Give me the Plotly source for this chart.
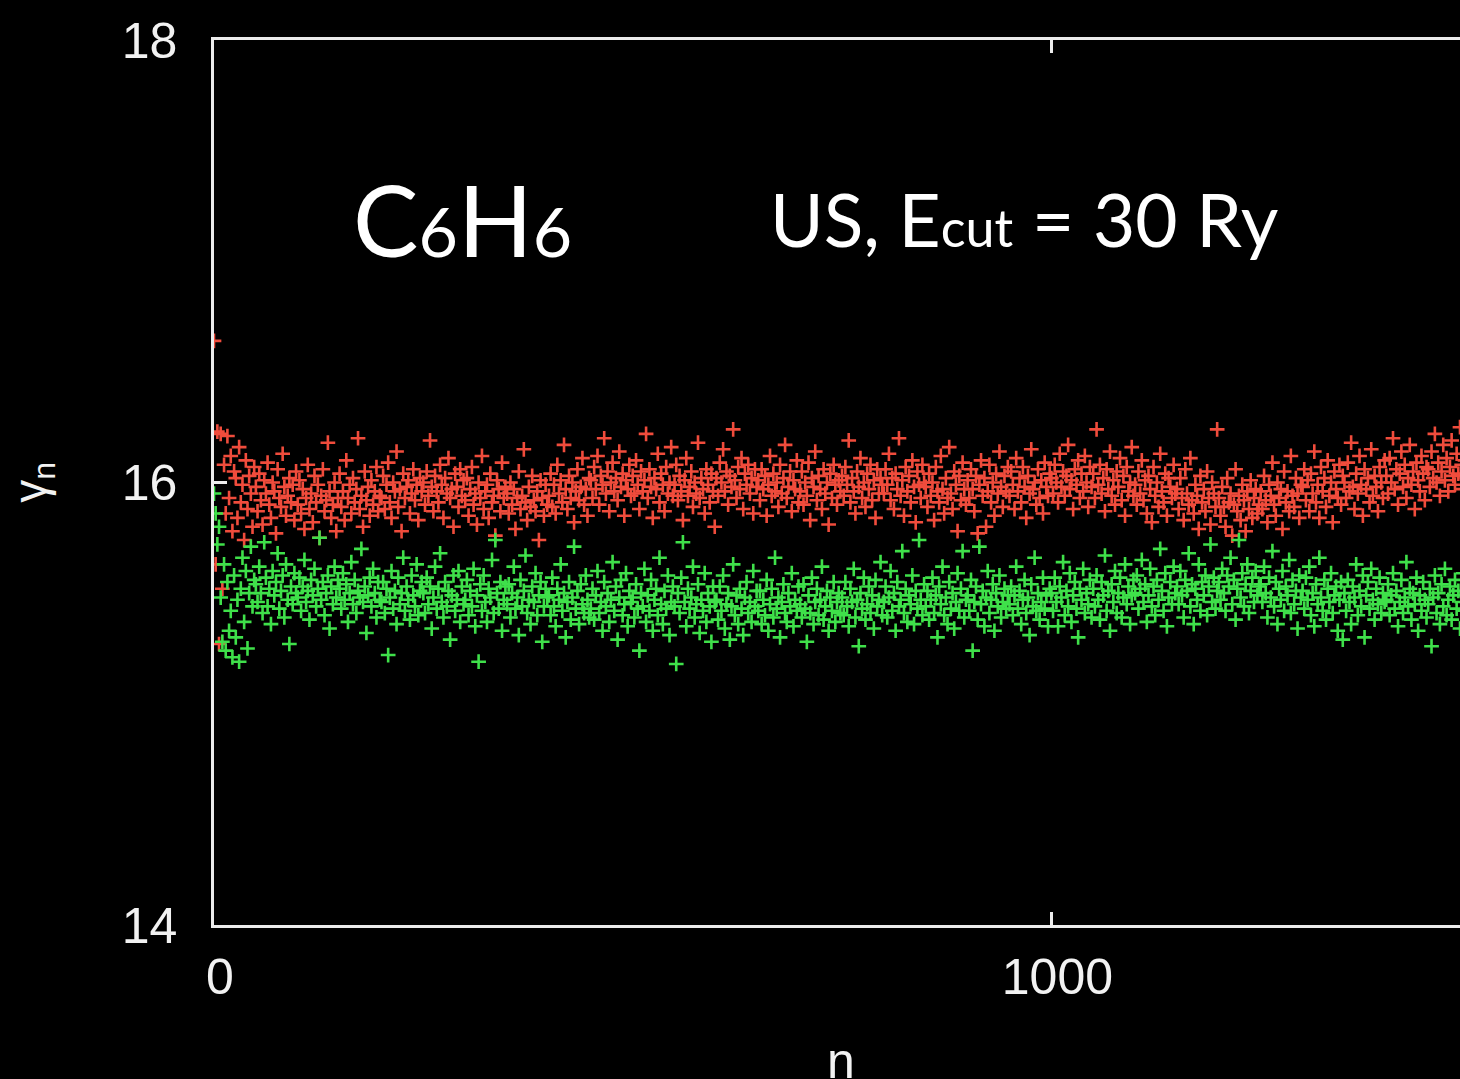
import plotly.graph_objects as go

# gamma_n values, one every 2 steps of n (n = 0, 2, 4, ...)
red_y = [
    16.64, 15.63, 16.23, 15.27, 16.22, 15.52, 16.08, 15.86, 16.21, 15.93, 16.12, 15.78, 16.05, 16.02, 15.84, 16.16, 15.91, 15.99, 15.74, 16.10, 15.88, 16.03, 15.95, 15.80, 16.07,
    15.98, 15.87, 16.04, 15.92, 15.81, 16.01, 15.95, 16.09, 15.90, 15.84, 16.00, 15.96, 15.77, 16.06, 15.93, 15.89, 16.13, 15.98, 15.85, 15.94, 16.02, 15.91, 15.99, 15.83, 16.05,
    15.90, 16.01, 15.86, 15.97, 15.79, 15.93, 16.08, 15.88, 15.95, 15.82, 16.03, 15.91, 15.99, 15.75, 15.94, 16.06, 15.87, 15.92, 16.18, 15.96, 15.84, 15.90, 16.00, 15.78, 15.93,
    16.04, 15.89, 15.96, 15.83, 16.10, 15.93, 15.99, 15.86, 16.02, 15.91, 15.97, 16.20, 15.88, 15.94, 15.80, 16.05, 15.92, 15.98, 15.85, 16.01, 15.90, 15.96, 16.07, 15.87, 15.94,
    15.93, 16.03, 15.88, 15.99, 16.09, 15.91, 15.84, 16.00, 15.96, 16.14, 15.89, 15.97, 15.78, 16.04, 15.93, 15.98, 16.01, 15.86, 15.95, 16.06, 15.92, 15.99, 15.83, 16.02, 15.96,
    16.00, 15.90, 16.05, 15.94, 16.19, 15.98, 15.87, 16.03, 15.96, 15.91, 16.08, 15.99, 15.84, 16.02, 15.95, 16.11, 15.93, 15.97, 15.80, 16.04, 15.98, 15.89, 16.06, 15.94, 16.01,
    15.92, 16.02, 15.85, 15.97, 16.07, 15.90, 15.95, 15.81, 16.00, 15.93, 16.12, 15.88, 15.96, 15.99, 15.84, 16.04, 15.91, 15.94, 15.76, 16.01, 15.97, 15.87, 16.09, 15.93, 15.98,
    15.95, 15.86, 16.00, 15.90, 15.97, 15.79, 15.93, 16.05, 15.88, 15.94, 16.15, 15.91, 15.83, 15.98, 15.89, 16.03, 15.92, 15.87, 15.96, 15.74, 16.01, 15.93, 15.85, 15.99, 15.90,
    15.94, 16.04, 15.89, 15.99, 15.86, 16.08, 15.95, 16.01, 15.91, 16.17, 15.97, 15.88, 16.03, 15.93, 16.00, 15.82, 15.96, 16.06, 15.92, 15.98, 16.11, 15.90, 15.97, 15.85, 16.02,
    16.01, 15.93, 16.07, 15.97, 16.12, 15.90, 16.03, 15.99, 16.20, 15.95, 16.05, 15.87, 16.00, 16.09, 15.96, 16.02, 15.92, 16.14, 15.98, 16.04, 15.85, 16.01, 15.97, 16.08, 15.94,
    16.03, 15.95, 16.10, 15.99, 15.88, 16.05, 15.96, 16.01, 16.22, 15.93, 16.06, 15.98, 15.84, 16.02, 15.97, 16.13, 15.91, 16.04, 15.99, 15.87, 16.07, 15.95, 16.00, 16.16, 15.94,
    15.99, 16.08, 15.92, 16.03, 15.96, 15.83, 16.01, 16.11, 15.94, 15.98, 16.05, 15.89, 16.00, 15.95, 16.18, 15.93, 16.02, 15.97, 15.86, 16.06, 15.99, 15.91, 16.04, 15.96, 15.80,
    16.02, 15.94, 16.09, 16.00, 16.15, 15.96, 16.05, 15.90, 16.03, 15.98, 16.24, 16.01, 15.93, 16.07, 15.97, 16.11, 15.88, 16.04, 15.99, 16.08, 15.95, 16.02, 15.86, 16.06, 15.98,
    16.01, 15.92, 16.06, 15.97, 16.03, 15.85, 15.99, 16.12, 15.94, 16.04, 15.96, 16.00, 15.89, 16.08, 15.95, 16.02, 16.17, 15.93, 15.98, 16.05, 15.87, 16.01, 15.97, 16.10, 15.91,
    15.96, 16.05, 15.90, 16.00, 15.94, 16.09, 15.83, 16.02, 15.98, 16.14, 15.92, 16.03, 15.97, 15.88, 16.06, 15.95, 16.00, 15.81, 16.04, 15.93, 16.08, 15.99, 15.90, 16.01, 15.96,
    16.03, 15.94, 16.07, 15.99, 16.19, 15.91, 16.02, 15.96, 15.86, 16.05, 15.98, 16.11, 15.93, 16.00, 15.89, 16.04, 15.97, 16.08, 15.92, 16.01, 15.84, 16.06, 15.95, 16.02, 15.99,
    15.95, 16.06, 15.99, 16.13, 15.92, 16.02, 15.88, 16.04, 15.97, 16.20, 15.94, 16.01, 15.85, 16.07, 15.96, 16.03, 15.91, 16.10, 15.98, 15.82, 16.05, 15.99, 15.93, 16.08, 16.00,
    15.98, 15.89, 16.04, 15.94, 16.00, 15.83, 16.07, 15.96, 15.91, 16.12, 15.97, 15.86, 16.02, 15.93, 16.16, 15.95, 15.88, 16.05, 15.99, 15.78, 16.03, 15.92, 16.09, 15.97, 15.90,
    16.01, 15.93, 16.06, 15.97, 15.87, 16.03, 15.77, 15.99, 16.10, 15.94, 16.02, 15.80, 15.96, 16.08, 15.91, 16.00, 15.85, 16.04, 15.95, 16.14, 15.98, 15.89, 16.03, 15.96, 16.07,
    15.94, 16.05, 15.99, 15.88, 16.11, 15.96, 16.02, 15.91, 16.07, 15.98, 15.84, 16.03, 15.95, 16.15, 15.97, 16.00, 15.90, 16.06, 15.93, 16.01, 15.86, 16.09, 15.98, 15.94, 16.04,
    16.02, 15.95, 16.08, 16.00, 15.91, 16.13, 15.98, 16.05, 15.94, 16.03, 16.17, 15.97, 16.01, 15.88, 16.06, 15.99, 16.10, 15.93, 16.04, 15.96, 16.12, 16.00, 15.89, 16.07, 15.98,
    16.04, 15.93, 16.24, 15.99, 16.08, 15.95, 16.02, 15.87, 16.06, 15.97, 16.14, 15.94, 16.01, 15.90, 16.05, 15.98, 16.11, 15.92, 16.03, 15.85, 16.07, 15.96, 16.00, 16.16, 15.94,
    15.99, 15.90, 16.05, 15.95, 16.10, 15.92, 16.01, 15.86, 16.03, 15.97, 15.82, 16.07, 15.94, 16.00, 15.89, 16.13, 15.96, 15.91, 16.04, 15.85, 16.02, 15.98, 15.93, 16.08, 15.95,
    15.97, 15.88, 16.02, 15.93, 15.83, 16.06, 15.95, 15.90, 16.11, 15.92, 15.86, 15.99, 15.94, 15.79, 16.03, 15.91, 15.97, 15.87, 16.05, 15.93, 15.81, 16.00, 15.95, 15.89, 16.24,
    15.93, 15.85, 15.98, 15.89, 15.80, 16.02, 15.91, 15.95, 15.76, 15.90, 16.06, 15.87, 15.94, 15.83, 15.99, 15.92, 15.78, 15.96, 15.88, 16.01, 15.84, 15.93, 15.97, 15.86, 15.90,
    15.96, 15.88, 16.03, 15.92, 15.82, 15.99, 15.94, 16.09, 15.90, 15.85, 16.00, 15.93, 15.97, 15.79, 16.05, 15.91, 15.96, 15.87, 16.12, 15.94, 15.89, 16.02, 15.95, 15.84, 15.99,
    15.98, 16.06, 15.92, 16.01, 15.87, 16.04, 15.95, 16.14, 15.91, 15.99, 15.84, 16.07, 15.96, 16.02, 15.89, 16.10, 15.94, 16.00, 15.82, 16.05, 15.97, 15.93, 16.08, 15.90, 16.03,
    16.00, 15.93, 16.09, 15.96, 16.18, 15.98, 15.88, 16.04, 15.95, 16.12, 15.99, 15.85, 16.06, 15.97, 16.02, 15.91, 16.15, 15.94, 16.03, 15.98, 15.87, 16.07, 16.00, 15.93, 16.10,
    16.03, 15.95, 16.11, 16.00, 16.20, 15.97, 16.06, 15.90, 16.04, 16.14, 15.98, 16.08, 15.93, 16.02, 16.17, 15.99, 16.05, 15.88, 16.09, 16.01, 15.96, 16.12, 16.04, 15.92, 16.07,
    16.06, 15.98, 16.14, 16.02, 16.22, 16.00, 16.09, 15.94, 16.05, 16.17, 16.01, 16.11, 15.96, 16.07, 16.19, 16.03, 15.99, 16.13, 16.04, 16.25, 16.08, 15.97, 16.10, 16.02, 16.15,
]

green_y = [
    15.95, 15.86, 15.72, 15.80, 15.48, 15.28, 15.63, 15.24, 15.55, 15.33, 15.42, 15.21, 15.58, 15.30, 15.47, 15.19, 15.52, 15.66, 15.37, 15.60, 15.25, 15.50, 15.71, 15.44, 15.56,
    15.54, 15.46, 15.62, 15.50, 15.41, 15.73, 15.57, 15.44, 15.52, 15.36, 15.60, 15.49, 15.55, 15.68, 15.43, 15.51, 15.58, 15.39, 15.63, 15.47, 15.27, 15.53, 15.45, 15.59, 15.50,
    15.48, 15.57, 15.42, 15.53, 15.65, 15.46, 15.51, 15.38, 15.56, 15.49, 15.61, 15.44, 15.52, 15.75, 15.47, 15.55, 15.40, 15.50, 15.58, 15.34, 15.53, 15.45, 15.62, 15.48, 15.56,
    15.52, 15.43, 15.59, 15.47, 15.54, 15.37, 15.50, 15.64, 15.45, 15.56, 15.41, 15.51, 15.48, 15.70, 15.46, 15.53, 15.32, 15.49, 15.57, 15.44, 15.61, 15.50, 15.39, 15.55, 15.47,
    15.46, 15.55, 15.41, 15.52, 15.22, 15.48, 15.60, 15.43, 15.51, 15.36, 15.57, 15.45, 15.50, 15.66, 15.42, 15.53, 15.47, 15.38, 15.58, 15.49, 15.44, 15.63, 15.40, 15.51, 15.55,
    15.50, 15.41, 15.57, 15.45, 15.53, 15.34, 15.48, 15.62, 15.43, 15.52, 15.68, 15.46, 15.39, 15.55, 15.44, 15.51, 15.29, 15.49, 15.58, 15.42, 15.47, 15.60, 15.37, 15.53, 15.45,
    15.47, 15.56, 15.40, 15.51, 15.44, 15.61, 15.35, 15.49, 15.19, 15.54, 15.42, 15.58, 15.46, 15.37, 15.52, 15.48, 15.65, 15.41, 15.74, 15.50, 15.43, 15.55, 15.33, 15.47, 15.53,
    15.45, 15.54, 15.39, 15.50, 15.62, 15.43, 15.48, 15.31, 15.56, 15.44, 15.51, 15.67, 15.41, 15.47, 15.36, 15.53, 15.46, 15.59, 15.40, 15.49, 15.55, 15.28, 15.44, 15.52, 15.48,
    15.49, 15.40, 15.57, 15.44, 15.35, 15.52, 15.47, 15.63, 15.42, 15.50, 15.30, 15.46, 15.55, 15.38, 15.48, 15.71, 15.43, 15.51, 15.36, 15.54, 15.45, 15.41, 15.58, 15.47, 15.39,
    15.43, 15.52, 15.38, 15.49, 15.60, 15.41, 15.46, 15.33, 15.55, 15.44, 15.50, 15.37, 15.47, 15.64, 15.42, 15.53, 15.29, 15.48, 15.56, 15.40, 15.45, 15.59, 15.35, 15.51, 15.46,
    15.48, 15.39, 15.54, 15.43, 15.24, 15.50, 15.44, 15.61, 15.37, 15.49, 15.42, 15.56, 15.33, 15.47, 15.52, 15.40, 15.66, 15.45, 15.36, 15.51, 15.43, 15.58, 15.31, 15.46, 15.53,
    15.44, 15.18, 15.50, 15.41, 15.57, 15.73, 15.46, 15.35, 15.52, 15.43, 15.48, 15.62, 15.39, 15.45, 15.54, 15.32, 15.47, 15.42, 15.59, 15.37, 15.50, 15.44, 15.28, 15.53, 15.46,
    15.47, 15.38, 15.53, 15.42, 15.58, 15.34, 15.45, 15.50, 15.29, 15.44, 15.63, 15.40, 15.49, 15.36, 15.52, 15.43, 15.31, 15.48, 15.55, 15.41, 15.46, 15.37, 15.60, 15.44, 15.51,
    15.42, 15.51, 15.36, 15.47, 15.40, 15.56, 15.33, 15.45, 15.52, 15.39, 15.66, 15.43, 15.48, 15.30, 15.46, 15.54, 15.41, 15.37, 15.50, 15.44, 15.59, 15.35, 15.47, 15.42, 15.53,
    15.45, 15.39, 15.54, 15.43, 15.28, 15.49, 15.41, 15.57, 15.36, 15.46, 15.52, 15.40, 15.47, 15.62, 15.38, 15.44, 15.51, 15.33, 15.48, 15.42, 15.55, 15.37, 15.46, 15.50, 15.41,
    15.48, 15.40, 15.55, 15.44, 15.35, 15.52, 15.46, 15.61, 15.39, 15.47, 15.26, 15.50, 15.43, 15.57, 15.38, 15.45, 15.53, 15.41, 15.49, 15.34, 15.56, 15.44, 15.47, 15.64, 15.40,
    15.46, 15.53, 15.39, 15.48, 15.60, 15.42, 15.50, 15.33, 15.55, 15.44, 15.47, 15.69, 15.41, 15.52, 15.37, 15.49, 15.45, 15.58, 15.36, 15.51, 15.43, 15.74, 15.47, 15.40, 15.54,
    15.44, 15.51, 15.38, 15.47, 15.57, 15.41, 15.49, 15.30, 15.53, 15.45, 15.62, 15.40, 15.48, 15.36, 15.55, 15.43, 15.50, 15.34, 15.46, 15.59, 15.42, 15.52, 15.69, 15.39, 15.47,
    15.49, 15.42, 15.56, 15.24, 15.46, 15.53, 15.38, 15.71, 15.45, 15.51, 15.35, 15.48, 15.60, 15.41, 15.47, 15.54, 15.33, 15.50, 15.44, 15.58, 15.39, 15.46, 15.52, 15.43, 15.49,
    15.45, 15.53, 15.40, 15.49, 15.62, 15.43, 15.51, 15.36, 15.47, 15.56, 15.41, 15.48, 15.31, 15.54, 15.44, 15.66, 15.42, 15.50, 15.38, 15.46, 15.57, 15.43, 15.49, 15.35, 15.52,
    15.50, 15.42, 15.57, 15.46, 15.35, 15.53, 15.48, 15.64, 15.40, 15.51, 15.44, 15.59, 15.37, 15.49, 15.55, 15.43, 15.30, 15.52, 15.47, 15.61, 15.41, 15.50, 15.45, 15.56, 15.39,
    15.52, 15.44, 15.58, 15.47, 15.38, 15.55, 15.49, 15.67, 15.42, 15.51, 15.33, 15.54, 15.46, 15.60, 15.41, 15.50, 15.57, 15.39, 15.48, 15.63, 15.45, 15.53, 15.36, 15.49, 15.56,
    15.50, 15.58, 15.43, 15.52, 15.65, 15.46, 15.54, 15.37, 15.49, 15.61, 15.44, 15.53, 15.40, 15.56, 15.47, 15.70, 15.51, 15.42, 15.59, 15.35, 15.48, 15.55, 15.45, 15.62, 15.50,
    15.53, 15.45, 15.60, 15.49, 15.39, 15.56, 15.51, 15.68, 15.44, 15.54, 15.36, 15.52, 15.47, 15.63, 15.42, 15.55, 15.49, 15.58, 15.40, 15.53, 15.72, 15.46, 15.57, 15.43, 15.51,
    15.55, 15.47, 15.61, 15.50, 15.42, 15.58, 15.53, 15.66, 15.45, 15.56, 15.38, 15.52, 15.74, 15.48, 15.59, 15.44, 15.54, 15.63, 15.41, 15.51, 15.57, 15.46, 15.60, 15.49, 15.53,
    15.54, 15.46, 15.62, 15.50, 15.39, 15.57, 15.48, 15.69, 15.44, 15.55, 15.36, 15.52, 15.47, 15.60, 15.42, 15.53, 15.49, 15.65, 15.41, 15.56, 15.45, 15.51, 15.34, 15.58, 15.48,
    15.51, 15.43, 15.57, 15.47, 15.62, 15.40, 15.50, 15.35, 15.54, 15.45, 15.66, 15.48, 15.42, 15.56, 15.38, 15.52, 15.46, 15.59, 15.41, 15.49, 15.53, 15.33, 15.47, 15.55, 15.29,
    15.50, 15.42, 15.56, 15.46, 15.36, 15.53, 15.48, 15.63, 15.40, 15.51, 15.44, 15.58, 15.30, 15.49, 15.55, 15.43, 15.61, 15.47, 15.38, 15.52, 15.45, 15.57, 15.41, 15.50, 15.46,
    15.47, 15.54, 15.40, 15.49, 15.59, 15.43, 15.51, 15.35, 15.46, 15.56, 15.41, 15.48, 15.64, 15.44, 15.52, 15.38, 15.50, 15.45, 15.57, 15.33, 15.49, 15.42, 15.55, 15.47, 15.39,
    15.45, 15.52, 15.26, 15.48, 15.58, 15.41, 15.50, 15.36, 15.54, 15.44, 15.61, 15.40, 15.47, 15.53, 15.38, 15.49, 15.56, 15.43, 15.51, 15.34, 15.46, 15.59, 15.42, 15.50, 15.45,
]

n_step = 2
red_n = list(range(0, n_step * len(red_y), n_step))
green_n = list(range(0, n_step * len(green_y), n_step))

x_ticks = [0, 1000]
y_ticks = [14, 16, 18]

RED = "#f04c3c"
GREEN = "#3fe04a"
AXIS = "#ececec"

fig = go.Figure()
fig.add_trace(go.Scatter(
    x=red_n, y=red_y, mode="markers",
    marker=dict(symbol="cross-thin", size=10.5, line=dict(color=RED, width=2.6), color=RED),
    showlegend=False,
))
fig.add_trace(go.Scatter(
    x=green_n, y=green_y, mode="markers",
    marker=dict(symbol="cross-thin", size=10.5, line=dict(color=GREEN, width=2.6), color=GREEN),
    showlegend=False,
))

tick_font = dict(family="Liberation Sans, Arial, sans-serif", size=50, color="#f2f2f2")

fig.update_layout(
    width=1460, height=1079,
    margin=dict(l=214, r=0, t=40, b=154, pad=0),
    paper_bgcolor="black", plot_bgcolor="black",
    xaxis=dict(
        range=[0, 1488], tickvals=x_ticks, ticktext=[str(v) for v in x_ticks],
        showgrid=False, zeroline=False, showline=True, linecolor=AXIS, linewidth=2.5,
        mirror="ticks", ticks="inside", ticklen=13, tickwidth=2.5, tickcolor=AXIS,
        tickfont=tick_font, ticklabelstandoff=6, ticklabelshift=6,
    ),
    yaxis=dict(
        range=[14, 18], tickvals=y_ticks, ticktext=[str(v) for v in y_ticks],
        showgrid=False, zeroline=False, showline=True, linecolor=AXIS, linewidth=2.5,
        mirror=False, ticks="inside", ticklen=13, tickwidth=2.5, tickcolor=AXIS,
        tickfont=tick_font, ticklabelstandoff=24,
    ),
    annotations=[
        dict(text="C<span style=\"font-size:68px\">6</span>H<span style=\"font-size:68px\">6</span>",
             xref="x", yref="y", x=164, y=17.19, xanchor="left", yanchor="middle",
             showarrow=False, font=dict(family="Lato, sans-serif", size=98, color="white")),
        dict(text="US, E<span style=\"font-size:52px\">cut</span> = 30 Ry",
             xref="x", yref="y", x=661, y=17.19, xanchor="left", yanchor="middle",
             showarrow=False, font=dict(family="Lato, sans-serif", size=73, color="white")),
        dict(text="γ<sub>n</sub>", xref="paper", yref="paper", x=-0.145, y=0.50,
             xanchor="center", yanchor="middle", textangle=-90, showarrow=False,
             font=dict(family="Liberation Sans, Arial, sans-serif", size=46, color="#f2f2f2")),
        dict(text="n", xref="paper", yref="paper", x=0.503, y=-0.154,
             xanchor="center", yanchor="middle", showarrow=False,
             font=dict(family="Liberation Sans, Arial, sans-serif", size=50, color="#f2f2f2")),
    ],
)

fig.write_html(
    "out.html",
    config={"displayModeBar": False},
    post_script="document.body.style.margin='0';document.body.style.background='black';",
)
